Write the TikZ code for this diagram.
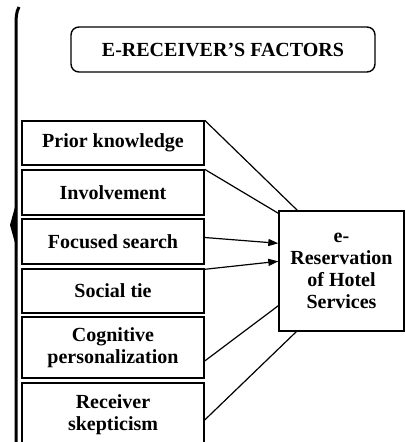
\documentclass[tikz,border=0pt]{standalone}
\usepackage{fontspec}
\setmainfont{Liberation Serif}
\usepackage{tikz}
\usetikzlibrary{arrows.meta}

\begin{document}
\begin{tikzpicture}[x=1pt,y=-1pt,
    factor/.style={draw,line width=1.4pt,inner sep=0pt,minimum width=182pt,align=center,
      font=\bfseries\fontsize{20}{22}\selectfont},
    link/.style={line width=1.2pt},
    arr/.style={line width=1.2pt,-{Triangle[length=10pt,width=7pt]}}]
        \useasboundingbox (0,0) rectangle (406,442);
        \clip (0,0) rectangle (406,442);
        % left brace
        \draw [line width=3pt] (19,7) .. controls (16,12) and (16,18) .. (16,30) -- (16,450);
        \fill (17,200) -- (10,225) -- (17,250) -- cycle;
        % heading
        \node (title) at (223,49.5) [draw,line width=1.4pt,rounded corners=8pt,minimum width=304pt,
          minimum height=45pt,font=\bfseries\fontsize{20}{22}\selectfont] {E-RECEIVER’S FACTORS};
        % factors
        \node (prior) at (113,143) [factor,minimum height=44pt] {Prior knowledge};
        \node (involve) at (113,192.5) [factor,minimum height=45pt] {Involvement};
        \node (focus) at (113,241.5) [factor,minimum height=45pt] {Focused search};
        \node (social) at (113,291) [factor,minimum height=44pt] {Social tie};
        \node (cognit) at (113,347.5) [factor,minimum height=61pt] {Cognitive\\personalization};
        \node (skept) at (113,415) [factor,minimum height=64pt] {Receiver\\skepticism};
        % outcome
        \node (ereserv) at (341.5,271) [factor,minimum width=125pt,minimum height=120pt] {e-\\Reservation\\of Hotel\\Services};
        % connectors
        \draw [link] (prior.north east) -- ([xshift=19pt]ereserv.north west);
        \draw [link] (involve.north east) -- ([yshift=-3pt]ereserv.north west);
        \draw [arr] ([yshift=4pt]focus.east) -- ([yshift=-33pt]ereserv.north west);
        \draw [arr] ([yshift=-1pt]social.north east) -- ([yshift=-51pt]ereserv.north west);
        \draw [link] ([yshift=-13.5pt]cognit.east) -- ([yshift=26pt]ereserv.south west);
        \draw [link] ([yshift=-5pt]skept.east) -- ([xshift=18pt]ereserv.south west);
      \end{tikzpicture}
\end{document}
